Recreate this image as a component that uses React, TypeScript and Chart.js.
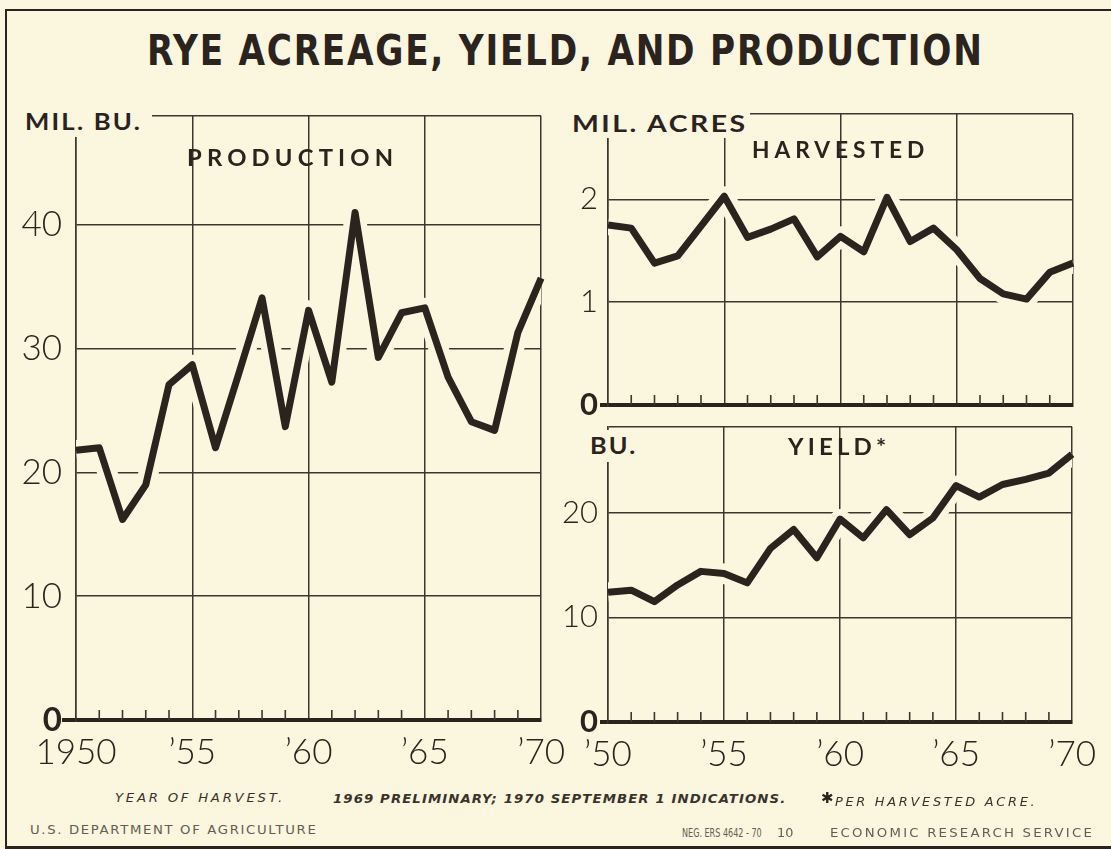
import React, { useEffect, useLayoutEffect, useRef, useState } from 'react';
import { Chart, registerables } from 'chart.js';

Chart.register(...registerables);

// ---------------- data ----------------
const years = ['1950', '1951', '1952', '1953', '1954', '1955', '1956', '1957', '1958', '1959', '1960',
  '1961', '1962', '1963', '1964', '1965', '1966', '1967', '1968', '1969', '1970'];

// million bushels
const productionValues = [21.8, 22.0, 16.2, 19.0, 27.1, 28.7, 22.0, 28.0, 34.1, 23.7, 33.1,
  27.3, 41.0, 29.3, 32.9, 33.3, 27.7, 24.1, 23.4, 31.3, 35.7];
// million acres harvested
const harvestedValues = [1.75, 1.72, 1.38, 1.45, 1.74, 2.03, 1.63, 1.71, 1.81, 1.44, 1.64,
  1.49, 2.02, 1.59, 1.72, 1.51, 1.23, 1.08, 1.03, 1.29, 1.38];
// bushels per harvested acre
const yieldValues = [12.4, 12.6, 11.5, 13.1, 14.4, 14.2, 13.3, 16.6, 18.4, 15.7, 19.4,
  17.6, 20.3, 17.9, 19.5, 22.6, 21.5, 22.7, 23.2, 23.8, 25.6];

const productionYTicks = [0, 10, 20, 30, 40];
const harvestedYTicks = [0, 1, 2];
const yieldYTicks = [0, 10, 20];
const productionXTicks = ['1950', '\u201955', '\u201960', '\u201965', '\u201970'];
const yieldXTicks = ['\u201950', '\u201955', '\u201960', '\u201965', '\u201970'];

// ---------------- styles ----------------
const INK = '#2a231e';
const GRID = '#3d362f';
const CREAM = '#fbf6de';
const NUM_FONT = 'Lato';
const LABEL_FONT = 'Lato';
const STAR = '\u2731';

type PanelCfg = {
  values: number[];
  yTicks: number[];
  yMax: number;
  xTicks: string[] | null;
  yAxisWidth: number;
  xAxisHeight: number;
  padding: { top: number; right: number; bottom: number; left: number };
  ySize: number;
  zeroSize: number;
  tickLen: number;
  yPad: number;
  xPad: number;
};

const minorTicksPlugin = {
  id: 'minorTicks',
  beforeDatasetsDraw(chart: any) {
    const xs = chart.scales.x;
    const ys = chart.scales.y;
    const ctx = chart.ctx;
    const base = ys.getPixelForValue(0);
    ctx.save();
    ctx.strokeStyle = GRID;
    ctx.lineWidth = 1.6;
    for (let i = 0; i < years.length; i++) {
      if (i % 5 === 0) continue;
      const px = xs.getPixelForValue(i);
      ctx.beginPath();
      ctx.moveTo(px, base);
      ctx.lineTo(px, base - 10);
      ctx.stroke();
    }
    ctx.restore();
  },
};

function buildConfig(p: PanelCfg): any {
  return {
    type: 'line',
    data: {
      labels: years,
      datasets: [
        {
          data: p.values,
          borderColor: INK,
          borderWidth: 7,
          pointRadius: 0,
          tension: 0,
          fill: false,
          borderJoinStyle: 'round',
          borderCapStyle: 'butt',
          order: 0,
        },
        {
          data: p.values,
          borderColor: CREAM,
          borderWidth: 20,
          pointRadius: 0,
          tension: 0,
          fill: false,
          borderJoinStyle: 'round',
          borderCapStyle: 'butt',
          clip: 0,
          order: 1,
        },
      ],
    },
    options: {
      animation: false,
      responsive: false,
      maintainAspectRatio: false,
      devicePixelRatio: 1,
      events: [],
      layout: { padding: p.padding },
      plugins: { legend: { display: false }, tooltip: { enabled: false }, title: { display: false } },
      scales: {
        x: {
          type: 'category',
          offset: false,
          grid: {
            display: true,
            offset: false,
            drawTicks: false,
            color: (c: any) => (c.index % 5 === 0 ? GRID : 'rgba(0,0,0,0)'),
            lineWidth: 1.5,
          },
          border: { display: true, color: INK, width: 4 },
          ticks: {
            display: !!p.xTicks,
            autoSkip: false,
            maxRotation: 0,
            minRotation: 0,
            padding: p.xPad,
            color: INK,
            font: { family: NUM_FONT, size: 35, weight: '300', lineHeight: 1 },
            callback: (_v: any, i: number) => (p.xTicks && i % 5 === 0 ? p.xTicks[i / 5] : ''),
          },
          afterFit: (s: any) => {
            s.height = p.xAxisHeight;
          },
        },
        y: {
          type: 'linear',
          min: 0,
          max: p.yMax,
          afterBuildTicks: (s: any) => {
            s.ticks = [...p.yTicks, p.yMax].map((v) => ({ value: v }));
          },
          grid: {
            display: true,
            drawTicks: true,
            tickLength: p.tickLen,
            color: GRID,
            lineWidth: (c: any) => (c.tick && c.tick.value === 0 ? 4 : 1.5),
            tickColor: (c: any) => (c.tick && c.tick.value === 0 ? INK : 'rgba(0,0,0,0)'),
            tickWidth: (c: any) => (c.tick && c.tick.value === 0 ? 4 : 1),
          },
          border: { display: true, color: GRID, width: 1.5 },
          ticks: {
            padding: p.yPad,
            color: INK,
            font: (c: any) =>
              c.tick && c.tick.value === 0
                ? { family: NUM_FONT, size: p.zeroSize, weight: 'bold', lineHeight: 1 }
                : { family: NUM_FONT, size: p.ySize, weight: '300', lineHeight: 1 },
            callback: (v: any) => (v === p.yMax ? '' : String(v)),
          },
          afterFit: (s: any) => {
            s.width = p.yAxisWidth;
          },
        },
      },
    },
    plugins: [minorTicksPlugin],
  };
}

function Panel({ cfg, left, top, width, height }: { cfg: PanelCfg; left: number; top: number; width: number; height: number }) {
  const ref = useRef<HTMLCanvasElement>(null);
  useEffect(() => {
    if (!ref.current) return;
    const chart = new Chart(ref.current, buildConfig(cfg));
    return () => chart.destroy();
  }, []);
  return (
    <canvas
      ref={ref}
      width={width}
      height={height}
      style={{ position: 'absolute', left, top, width, height, display: 'block' }}
    />
  );
}

type FitProps = {
  text: string;
  x: number;
  w: number;
  cy: number;
  size: number;
  family: string;
  weight?: string | number;
  italic?: boolean;
  spacing?: number;
  color?: string;
  capRatio?: number;
  stretch?: string;
};

function FitText({ text, x, w, cy, size, family, weight = 'normal', italic = false, spacing = 0, color = INK, capRatio = 0.62, stretch = 'normal' }: FitProps) {
  const ref = useRef<HTMLDivElement>(null);
  const [k, setK] = useState(1);
  useLayoutEffect(() => {
    const measure = () => {
      const el = ref.current;
      if (!el) return;
      const natural = el.offsetWidth - spacing;
      if (natural > 0) setK(w / natural);
    };
    measure();
    if ((document as any).fonts && (document as any).fonts.ready) {
      (document as any).fonts.ready.then(measure);
    }
  }, []);
  return (
    <div
      ref={ref}
      style={{
        position: 'absolute',
        left: x,
        top: cy - size * capRatio,
        fontFamily: family,
        fontSize: size,
        fontWeight: weight as any,
        fontStyle: italic ? 'italic' : 'normal',
        fontStretch: stretch,
        letterSpacing: spacing,
        lineHeight: `${size * 1.2}px`,
        whiteSpace: 'nowrap',
        color,
        transform: `scaleX(${k})`,
        transformOrigin: '0 0',
      }}
    >
      {text}
    </div>
  );
}

const productionCfg: PanelCfg = {
  values: productionValues,
  yTicks: productionYTicks,
  yMax: 48.8,
  xTicks: productionXTicks,
  yAxisWidth: 76,
  xAxisHeight: 60,
  padding: { top: 26, right: 37, bottom: 10, left: 0 },
  ySize: 35,
  zeroSize: 33,
  tickLen: 14,
  yPad: 0,
  xPad: 15,
};

const harvestedCfg: PanelCfg = {
  values: harvestedValues,
  yTicks: harvestedYTicks,
  yMax: 2.83,
  xTicks: null,
  yAxisWidth: 68,
  xAxisHeight: 10,
  padding: { top: 24, right: 38, bottom: 15, left: 0 },
  ySize: 31,
  zeroSize: 31,
  tickLen: 8,
  yPad: 2,
  xPad: 15,
};

const yieldCfg: PanelCfg = {
  values: yieldValues,
  yTicks: yieldYTicks,
  yMax: 28.2,
  xTicks: yieldXTicks,
  yAxisWidth: 68,
  xAxisHeight: 60,
  padding: { top: 27, right: 38, bottom: 8, left: 0 },
  ySize: 31,
  zeroSize: 31,
  tickLen: 8,
  yPad: 2,
  xPad: 15,
};

export default function App() {
  useEffect(() => {
    document.body.style.background = CREAM;
  }, []);
  const footItalic = "'DejaVu Sans', sans-serif";
  return (
    <div style={{ position: 'absolute', left: 0, top: 0, width: 1111, height: 849, background: CREAM, overflow: 'hidden' }}>
      {/* outer frame */}
      <div
        style={{
          position: 'absolute',
          left: 5,
          top: 9,
          width: 1200,
          height: 840,
          boxSizing: 'border-box',
          borderLeft: `2px solid ${INK}`,
          borderTop: `2px solid ${INK}`,
          borderBottom: `3px solid ${INK}`,
        }}
      />

      <Panel cfg={productionCfg} left={0} top={90} width={580} height={700} />
      <Panel cfg={harvestedCfg} left={540} top={90} width={571} height={340} />
      <Panel cfg={yieldCfg} left={540} top={400} width={571} height={390} />

      {/* masks behind unit labels */}
      <div style={{ position: 'absolute', left: 12, top: 104, width: 140, height: 33, background: CREAM }} />
      <div style={{ position: 'absolute', left: 560, top: 104, width: 190, height: 34, background: CREAM }} />
      <div style={{ position: 'absolute', left: 585, top: 430, width: 55, height: 32, background: CREAM }} />

      <FitText
        text="RYE ACREAGE, YIELD, AND PRODUCTION"
        x={147}
        w={835}
        cy={50}
        size={43}
        family="'DejaVu Sans Condensed', 'DejaVu Sans', sans-serif"
        stretch="condensed"
        weight="bold"
        spacing={2}
        capRatio={0.58}
      />

      <FitText text="MIL. BU." x={25} w={115} cy={122} size={23} family={LABEL_FONT} weight={700} spacing={2} />
      <FitText text="PRODUCTION" x={187} w={206} cy={158} size={23} family={LABEL_FONT} weight={700} spacing={5} />
      <FitText text="MIL. ACRES" x={572} w={173} cy={124} size={23} family={LABEL_FONT} weight={700} spacing={2} />
      <FitText text="HARVESTED" x={752} w={172} cy={150} size={23} family={LABEL_FONT} weight={700} spacing={5} />
      <FitText text="BU." x={590} w={45} cy={446} size={23} family={LABEL_FONT} weight={700} spacing={2} />
      <FitText text="YIELD*" x={788} w={98} cy={447} size={23} family={LABEL_FONT} weight={700} spacing={4} />

      {/* footnotes */}
      <FitText text="YEAR OF HARVEST." x={115} w={167} cy={798} size={12} family={footItalic} italic spacing={2.5} color="#3a332d" capRatio={0.58} />
      <FitText
        text="1969 PRELIMINARY; 1970 SEPTEMBER 1 INDICATIONS."
        x={333}
        w={452}
        cy={799}
        size={12}
        family={footItalic}
        italic
        weight="bold"
        spacing={1}
        color="#3a332d"
        capRatio={0.58}
      />
      <FitText text={STAR} x={821} w={13} cy={798} size={15} family="'DejaVu Sans', sans-serif" weight="bold" color={INK} capRatio={0.6} />
      <FitText text="PER HARVESTED ACRE." x={835} w={200} cy={802} size={12} family={footItalic} italic spacing={2.5} color="#3a332d" capRatio={0.58} />

      <FitText text="U.S. DEPARTMENT OF AGRICULTURE" x={30} w={286} cy={830} size={12} family="'DejaVu Sans', sans-serif" spacing={1.5} color="#645d54" capRatio={0.58} />
      <FitText text="NEG. ERS 4642 - 70" x={682} w={80} cy={833} size={12} family="'DejaVu Sans', sans-serif" spacing={0} color="#645d54" capRatio={0.58} />
      <FitText text="10" x={777} w={16} cy={833} size={12} family="'DejaVu Sans', sans-serif" color="#645d54" capRatio={0.58} />
      <FitText text="ECONOMIC RESEARCH SERVICE" x={830} w={262} cy={833} size={12} family="'DejaVu Sans', sans-serif" spacing={2} color="#645d54" capRatio={0.58} />
    </div>
  );
}
